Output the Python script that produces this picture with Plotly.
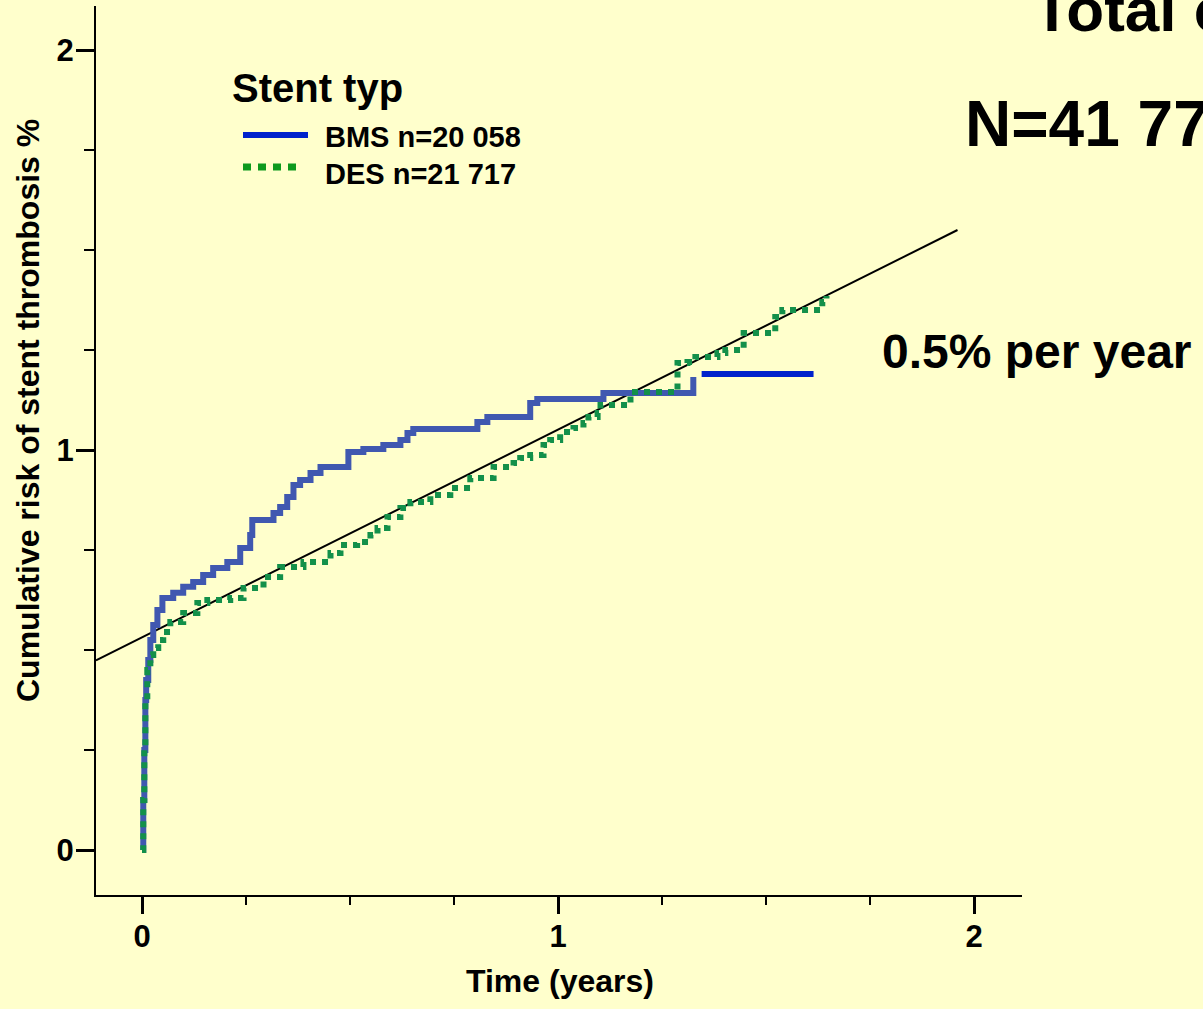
import plotly.graph_objects as go

# ---------------- data ----------------
bms_time = [0.0, 0.003, 0.0055, 0.008, 0.010, 0.015, 0.020, 0.027, 0.037, 0.049,
            0.075, 0.099, 0.123, 0.147, 0.171, 0.205, 0.236, 0.260, 0.265, 0.308,
            0.316, 0.332, 0.349, 0.364, 0.380, 0.405, 0.429, 0.484, 0.496, 0.532,
            0.580, 0.621, 0.638, 0.652, 0.789, 0.806, 0.830, 0.917, 0.933, 0.950,
            1.109, 1.109, 1.325, 1.325]
bms_risk = [0.0, 0.125, 0.25, 0.375, 0.425, 0.475, 0.525, 0.5625, 0.60, 0.63,
            0.643, 0.658, 0.67, 0.6875, 0.705, 0.72, 0.755, 0.7875, 0.825, 0.825,
            0.8425, 0.8575, 0.8825, 0.9125, 0.925, 0.9425, 0.9575, 0.9575, 0.995, 1.0025,
            1.0125, 1.025, 1.0425, 1.0525, 1.0525, 1.07, 1.0825, 1.0825, 1.1175, 1.1275,
            1.1275, 1.1425, 1.1425, 1.1825]

bms_tail_time = [1.345, 1.614]
bms_tail_risk = [1.19, 1.19]

des_time = [0.0, 0.003, 0.0055, 0.008, 0.0127, 0.020, 0.027, 0.039, 0.051, 0.068,
            0.099, 0.133, 0.157, 0.188, 0.212, 0.244, 0.292, 0.332, 0.388, 0.453,
            0.477, 0.517, 0.549, 0.566, 0.590, 0.621, 0.645, 0.676, 0.693, 0.741,
            0.789, 0.845, 0.893, 0.909, 0.933, 0.965, 0.981, 1.005, 1.037, 1.061,
            1.073, 1.095, 1.102, 1.157, 1.174, 1.270, 1.287, 1.287, 1.311, 1.330,
            1.361, 1.383, 1.402, 1.431, 1.446, 1.503, 1.522, 1.539, 1.623, 1.635,
            1.645]
des_risk = [0.0, 0.125, 0.25, 0.375, 0.45, 0.4875, 0.505, 0.525, 0.545, 0.57,
            0.5925, 0.6175, 0.625, 0.625, 0.63, 0.655, 0.6825, 0.7075, 0.72, 0.7425,
            0.7625, 0.77, 0.7875, 0.805, 0.8325, 0.855, 0.87, 0.87, 0.8875, 0.905,
            0.93, 0.9575, 0.9675, 0.98, 0.9875, 1.0125, 1.025, 1.045, 1.055, 1.0675,
            1.0825, 1.0925, 1.1125, 1.1125, 1.145, 1.145, 1.1925, 1.2175, 1.22, 1.2325,
            1.2325, 1.2425, 1.25, 1.25, 1.2925, 1.2925, 1.3325, 1.35, 1.35, 1.37,
            1.385]

trend_time = [-0.1106, 1.96]
trend_risk = [0.474, 1.55]

x_tick_vals = [0, 1, 2]
x_tick_text = ["0", "1", "2"]
y_tick_vals = [0, 1, 2]
y_tick_text = ["0", "1", "2"]

legend_title = "Stent typ"
series_names = ["BMS n=20 058", "DES n=21 717"]
cohort_title = "Total cohort"
cohort_n = "N=41 775"
rate_label = "0.5% per year"
x_title = "Time (years)"
y_title = "Cumulative risk of stent thrombosis %"

# ---------------- styling ----------------
BG = "#FFFFCC"
BMS_COL = "#4058B0"
BMS_TAIL_COL = "#0022CC"
DES_COL = "#13904A"
LEG_GREEN = "#0E9A1E"
FONT = "Liberation Sans, Arial, Helvetica, sans-serif"

W, H = 1203, 1009
L, R, T, B = 96, 181, 6, 114
PW, PH = W - L - R, H - T - B


def px(x):
    return (x - L) / PW


def py(y):
    return (H - B - y) / PH


fig = go.Figure()

fig.add_trace(go.Scatter(x=trend_time, y=trend_risk, mode="lines",
                         line=dict(color="black", width=2), showlegend=False,
                         hoverinfo="skip"))
fig.add_trace(go.Scatter(x=bms_time, y=bms_risk, mode="lines", name=series_names[0],
                         line=dict(color=BMS_COL, width=6, shape="hv"),
                         showlegend=False))
fig.add_trace(go.Scatter(x=bms_tail_time, y=bms_tail_risk, mode="lines",
                         name=series_names[0],
                         line=dict(color=BMS_TAIL_COL, width=6), showlegend=False))
fig.add_trace(go.Scatter(x=des_time, y=des_risk, mode="lines", name=series_names[1],
                         line=dict(color=DES_COL, width=6, dash="6px,6px", shape="hv"),
                         showlegend=False))

axis_common = dict(
    showgrid=False, zeroline=False, showline=True, linecolor="black", linewidth=2,
    ticks="outside", tickcolor="black", tickwidth=3, ticklabelstandoff=-4,
    tickfont=dict(family=FONT, size=31, color="black", weight="bold"),
)

fig.update_xaxes(range=[-0.1106, 2.115], tickvals=x_tick_vals, ticktext=x_tick_text,
                 ticklen=17,
                 minor=dict(ticks="outside", dtick=0.25, tick0=0, ticklen=8,
                            tickwidth=2, tickcolor="black", showgrid=False),
                 **axis_common)
fig.update_yaxes(range=[-0.1125, 2.11], tickvals=y_tick_vals, ticktext=y_tick_text,
                 ticklen=18,
                 minor=dict(ticks="outside", dtick=0.25, tick0=0, ticklen=10,
                            tickwidth=2, tickcolor="black", showgrid=False),
                 **axis_common)

annotations = []


def add_text(text, x, y, size, xanchor="left", yanchor="middle", angle=0):
    annotations.append(dict(text=text, x=px(x), y=py(y), xref="paper", yref="paper",
                            xanchor=xanchor, yanchor=yanchor, showarrow=False,
                            textangle=angle,
                            font=dict(family=FONT, size=size, color="black",
                                      weight="bold")))


add_text(legend_title, 230, 88, 40)
add_text(series_names[0], 323, 137, 29)
add_text(series_names[1], 323, 174, 29)
add_text(rate_label, 880, 351, 48)
add_text(cohort_n, 963, 124, 64)
add_text(cohort_title, 1031, 10, 62)
add_text(x_title, 560, 981, 32, xanchor="center")
add_text(y_title, 28, 411, 32, xanchor="center", angle=-90)

shapes = [
    dict(type="line", xref="paper", yref="paper", x0=px(243), x1=px(308),
         y0=py(135), y1=py(135), line=dict(color=BMS_TAIL_COL, width=6)),
    dict(type="line", xref="paper", yref="paper", x0=px(243), x1=px(302),
         y0=py(167), y1=py(167), line=dict(color=LEG_GREEN, width=7, dash="8px,7px")),
]

fig.update_layout(
    width=W, height=H, margin=dict(l=L, r=R, t=T, b=B, autoexpand=False),
    paper_bgcolor=BG, plot_bgcolor=BG, showlegend=False,
    annotations=annotations, shapes=shapes,
    font=dict(family=FONT, color="black"),
)

fig.write_html("out.html", config={"displayModeBar": False},
               post_script="document.body.style.margin='0';"
                           "document.body.style.background='" + BG + "';")
